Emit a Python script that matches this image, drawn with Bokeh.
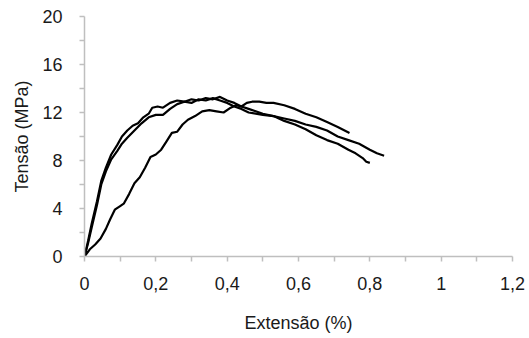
from bokeh.plotting import figure
from bokeh.models import Range1d, FixedTicker
from bokeh.embed import file_html
from bokeh.resources import INLINE

# Data (strain %, stress MPa)
x_a = [0, 0.01, 0.02, 0.035, 0.047, 0.06, 0.075, 0.092, 0.105, 0.12, 0.135, 0.15, 0.165, 0.18, 0.19, 0.205,
       0.22, 0.24, 0.26, 0.28, 0.30, 0.32, 0.34, 0.36, 0.38, 0.40, 0.42, 0.44, 0.46, 0.48, 0.50,
       0.53, 0.56, 0.59, 0.62, 0.65, 0.68, 0.71, 0.74, 0.76, 0.78, 0.79, 0.80]
y_a = [0, 1.3, 2.7, 4.6, 6.3, 7.4, 8.5, 9.3, 10.0, 10.5, 10.9, 11.1, 11.6, 11.9, 12.4, 12.5,
       12.4, 12.8, 13.0, 12.9, 13.1, 13.0, 13.2, 13.1, 13.3, 13.0, 12.8, 12.5, 12.3, 12.1, 11.9,
       11.7, 11.3, 11.0, 10.6, 10.1, 9.7, 9.4, 8.9, 8.6, 8.2, 7.9, 7.8]

x_b = [0, 0.01, 0.02, 0.035, 0.047, 0.06, 0.075, 0.092, 0.105, 0.12, 0.14, 0.16, 0.18, 0.20, 0.22,
       0.24, 0.26, 0.28, 0.30, 0.32, 0.34, 0.36, 0.38, 0.40, 0.42, 0.44, 0.46, 0.48, 0.50, 0.53,
       0.56, 0.59, 0.62, 0.65, 0.68, 0.71, 0.74, 0.77, 0.80, 0.82, 0.84]
y_b = [0, 1.1, 2.4, 4.3, 6.0, 7.1, 8.1, 8.8, 9.4, 9.9, 10.5, 11.1, 11.6, 11.8, 11.8,
       12.3, 12.7, 12.9, 12.8, 13.1, 13.0, 13.2, 13.0, 12.8, 12.5, 12.3, 12.0, 11.9, 11.8, 11.7,
       11.5, 11.3, 11.0, 10.8, 10.5, 10.0, 9.7, 9.4, 8.9, 8.6, 8.4]

x_c = [0, 0.015, 0.03, 0.045, 0.06, 0.072, 0.085, 0.1, 0.11, 0.125, 0.14, 0.155, 0.17, 0.185, 0.2,
       0.215, 0.23, 0.245, 0.26, 0.275, 0.29, 0.31, 0.33, 0.35, 0.37, 0.39, 0.41, 0.425, 0.44,
       0.455, 0.47, 0.49, 0.51, 0.53, 0.56, 0.59, 0.62, 0.65, 0.68, 0.71, 0.743]
y_c = [0, 0.6, 1.0, 1.5, 2.3, 3.1, 3.9, 4.2, 4.4, 5.2, 6.1, 6.6, 7.4, 8.3, 8.5,
       8.9, 9.6, 10.3, 10.4, 11.0, 11.4, 11.7, 12.1, 12.2, 12.1, 12.0, 12.4, 12.6, 12.5,
       12.8, 12.9, 12.9, 12.8, 12.8, 12.6, 12.3, 11.9, 11.6, 11.2, 10.8, 10.3]

x_ticks = [0, 0.2, 0.4, 0.6, 0.8, 1.0, 1.2]
x_tick_labels = ["0", "0,2", "0,4", "0,6", "0,8", "1", "1,2"]
x_minor = [0.1, 0.3, 0.5, 0.7, 0.9, 1.1]
y_ticks = [0, 4, 8, 12, 16, 20]
y_tick_labels = ["0", "4", "8", "12", "16", "20"]
y_minor = [2, 6, 10, 14, 18]

FONT = "Liberation Sans"
AX = "#bfbfbf"
TXT = "#1a1a1a"

p = figure(frame_width=428, frame_height=240, output_backend="svg", toolbar_location=None,
           x_range=Range1d(0, 1.2), y_range=Range1d(0, 20),
           min_border_left=84, min_border_right=15, min_border_top=16, min_border_bottom=74)
p.outline_line_color = None
p.xgrid.visible = False
p.ygrid.visible = False
p.background_fill_color = "white"
p.border_fill_color = "white"

for xs, ys in [(x_c, y_c), (x_b, y_b), (x_a, y_a)]:
    p.line(xs, ys, line_color="black", line_width=2.2)

p.xaxis.ticker = FixedTicker(ticks=x_ticks, minor_ticks=x_minor)
p.yaxis.ticker = FixedTicker(ticks=y_ticks, minor_ticks=y_minor)
p.xaxis.major_label_overrides = {t: l for t, l in zip(x_ticks, x_tick_labels)}
p.yaxis.major_label_overrides = {t: l for t, l in zip(y_ticks, y_tick_labels)}

for ax in (p.xaxis[0], p.yaxis[0]):
    ax.axis_line_color = AX
    ax.axis_line_width = 1.5
    ax.major_tick_line_color = AX
    ax.minor_tick_line_color = AX
    ax.major_tick_line_width = 1.5
    ax.minor_tick_line_width = 1.5
    ax.major_tick_in = 0
    ax.major_tick_out = 5
    ax.minor_tick_in = 0
    ax.minor_tick_out = 5
    ax.major_label_text_font = FONT
    ax.major_label_text_font_size = "18px"
    ax.major_label_text_color = TXT
    ax.axis_label_text_font = FONT
    ax.axis_label_text_font_size = "18px"
    ax.axis_label_text_font_style = "normal"
    ax.axis_label_text_color = TXT

p.xaxis.axis_label = "Extensão (%)"
p.yaxis.axis_label = "Tensão (MPa)"
p.xaxis.major_label_standoff = 15
p.yaxis.major_label_standoff = 17
p.xaxis.axis_label_standoff = 20
p.yaxis.axis_label_standoff = 7

open("out.html", "w").write(file_html(p, INLINE))
